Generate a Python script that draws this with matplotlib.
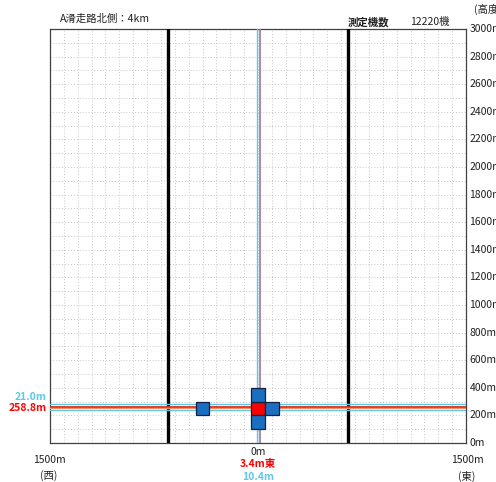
import matplotlib
matplotlib.use("Agg")
import matplotlib.pyplot as plt

plt.rcParams['font.family'] = ['Noto Sans CJK JP', 'DejaVu Sans']

# data
title_text = "A滑走路北側：4km"
count_label = "測定機数"
count_value = "12220機"
y_ticks = list(range(0, 3001, 200))
y_tick_labels = [f"{v}m" for v in y_ticks]

runway_edges = [-650, 650]          # thick black lines (m)
mean_x = 3.4                        # lateral mean (m, east +)
std_x = 10.4
mean_alt = 258.8                    # altitude mean (m)
std_alt = 21.0

# 100m x 100m cells with passages
cell_x = [0, 0, 0, 100, -400]
cell_y = [250, 350, 150, 250, 250]
cell_n = [5, 2, 2, 2, 1]

blue = "#1a6fc0"
red = "#ff0000"
cyan = "#5cc8ec"

fig = plt.figure(figsize=(4.96, 4.82), dpi=100)
ax = fig.add_axes([50 / 496, 1 - 443 / 482, 416 / 496, 414 / 482])
ax.set_xlim(-1500, 1500)
ax.set_ylim(0, 3000)

# grid
ax.set_xticks(range(-1500, 1501, 100))
ax.set_yticks(range(0, 3001, 100))
ax.grid(True, color="#c8c8c8", linestyle=(0, (1, 2)), linewidth=0.7)
ax.tick_params(length=0, labelbottom=False, labelleft=False)
for s in ax.spines.values():
    s.set_color("#404040")
    s.set_linewidth(0.9)

# runway edges
for xe in runway_edges:
    ax.axvline(xe, color="black", linewidth=2.4, zorder=3)

# mean / std lines
ax.axhline(mean_alt + std_alt, color=cyan, linewidth=1.0, zorder=3)
ax.axhline(mean_alt - std_alt, color=cyan, linewidth=1.0, zorder=3)
ax.axhline(mean_alt + 4, color="#90b090", linewidth=0.8, zorder=3)
ax.axhline(mean_alt, color="#e03020", linewidth=1.3, zorder=3)
ax.axhline(mean_alt - 6, color="#f09060", linewidth=0.9, zorder=3)
ax.axvline(mean_x - std_x, color=cyan, linewidth=1.0, zorder=3)
ax.axvline(mean_x + std_x, color="#a07890", linewidth=1.2, zorder=3)

# cells
top = max(cell_n)
colors = [red if n == top else blue for n in cell_n]
ax.bar(cell_x, 100, width=100, bottom=[y - 50 for y in cell_y],
       color=colors, edgecolor="#102040", linewidth=0.9, zorder=4)

# y tick labels on right
for v, lab in zip(y_ticks, y_tick_labels):
    ax.text(1.008, v / 3000, lab, transform=ax.transAxes, fontsize=7.5,
            ha="left", va="center", color="#202020")
fig.text(474 / 496, 1 - 9 / 482, "(高度", fontsize=7.5, ha="left", va="center", color="#202020")

# header
fig.text(60 / 496, 1 - 19 / 482, title_text, fontsize=7.5, ha="left", va="center", color="#202020")
fig.text(348 / 496, 1 - 22 / 482, count_label, fontsize=7.5, ha="left", va="center",
         color="#202020", fontweight="bold")
fig.text(410 / 496, 1 - 22 / 482, count_value, fontsize=7.5, ha="left", va="center", color="#202020")

# left labels
fig.text(47 / 496, 1 - 397 / 482, f"{std_alt:.1f}m", fontsize=7.5, ha="right", va="center",
         color=cyan, fontweight="bold")
fig.text(47 / 496, 1 - 408 / 482, f"{mean_alt:.1f}m", fontsize=7.5, ha="right", va="center",
         color=red, fontweight="bold")

# bottom labels
fig.text(258 / 496, 1 - 452 / 482, "0m", fontsize=7.5, ha="center", va="center", color="#202020")
fig.text(258 / 496, 1 - 464 / 482, f"{mean_x:.1f}m東", fontsize=7.5, ha="center", va="center",
         color=red, fontweight="bold")
fig.text(258 / 496, 1 - 477 / 482, f"{std_x:.1f}m", fontsize=7.5, ha="center", va="center",
         color=cyan, fontweight="bold")
fig.text(49 / 496, 1 - 460 / 482, "1500m", fontsize=7.5, ha="center", va="center", color="#202020")
fig.text(49 / 496, 1 - 476 / 482, "(西)", fontsize=7.5, ha="center", va="center", color="#202020")
fig.text(467 / 496, 1 - 460 / 482, "1500m", fontsize=7.5, ha="center", va="center", color="#202020")
fig.text(467 / 496, 1 - 476 / 482, "(東)", fontsize=7.5, ha="center", va="center", color="#202020")

fig.savefig("out.png", dpi=100)
